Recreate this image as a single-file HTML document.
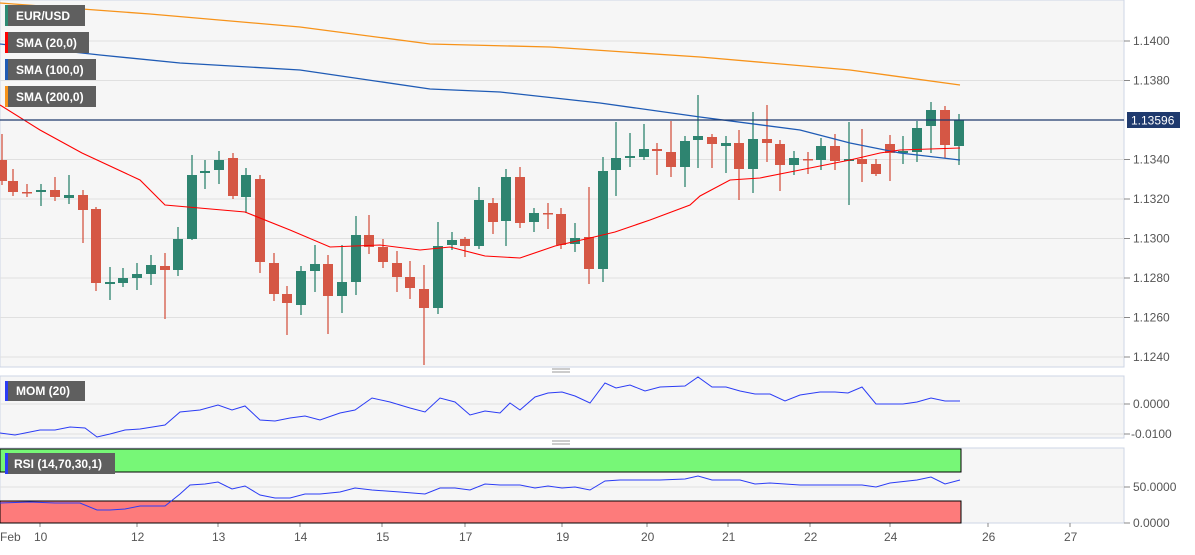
<!DOCTYPE html><html><head><meta charset="utf-8"><style>
body{margin:0;background:#fff;width:1195px;height:550px;overflow:hidden;font-family:"Liberation Sans",Arial,sans-serif}
svg text{font-family:"Liberation Sans",Arial,sans-serif}
</style></head><body>
<svg id="s" width="1195" height="550" xmlns="http://www.w3.org/2000/svg">
<rect x="0" y="0" width="1124" height="367" fill="#f6f6f6" stroke="#cdd5e5"/>
<rect x="0" y="376" width="1124" height="62" fill="#f6f6f6" stroke="#cdd5e5"/>
<rect x="0" y="448" width="1124" height="75" fill="#f6f6f6" stroke="#cdd5e5"/>
<g stroke="#e0e0e0" stroke-width="1">
<line x1="0" x2="1124" y1="41" y2="41"/><line x1="0" x2="1124" y1="80.5" y2="80.5"/><line x1="0" x2="1124" y1="159.5" y2="159.5"/><line x1="0" x2="1124" y1="199" y2="199"/><line x1="0" x2="1124" y1="238.5" y2="238.5"/><line x1="0" x2="1124" y1="278" y2="278"/><line x1="0" x2="1124" y1="317.5" y2="317.5"/><line x1="0" x2="1124" y1="357" y2="357"/>
<line x1="0" x2="1124" y1="404" y2="404"/><line x1="0" x2="1124" y1="434" y2="434"/><line x1="0" x2="1124" y1="487" y2="487"/>
</g>
<g stroke="#888" stroke-width="1">
<line x1="1124" x2="1130" y1="41" y2="41"/><line x1="1124" x2="1130" y1="80.5" y2="80.5"/><line x1="1124" x2="1130" y1="159.5" y2="159.5"/><line x1="1124" x2="1130" y1="199" y2="199"/><line x1="1124" x2="1130" y1="238.5" y2="238.5"/><line x1="1124" x2="1130" y1="278" y2="278"/><line x1="1124" x2="1130" y1="317.5" y2="317.5"/><line x1="1124" x2="1130" y1="357" y2="357"/>
<line x1="1124" x2="1130" y1="404" y2="404"/><line x1="1124" x2="1130" y1="434" y2="434"/><line x1="1124" x2="1130" y1="487" y2="487"/><line x1="1124" x2="1130" y1="523" y2="523"/>
</g>
<g font-size="12" fill="#555">
<text x="1133" y="45">1.1400</text><text x="1133" y="84.5">1.1380</text><text x="1133" y="163.5">1.1340</text><text x="1133" y="203">1.1320</text><text x="1133" y="242.5">1.1300</text><text x="1133" y="282">1.1280</text><text x="1133" y="321.5">1.1260</text><text x="1133" y="361">1.1240</text>
<text x="1133" y="408">0.0000</text><text x="1131" y="438">-0.0100</text><text x="1133" y="491">50.0000</text><text x="1133" y="527">0.0000</text>
<text x="0" y="541">Feb</text><text x="34" y="541">10</text><text x="131" y="541">12</text><text x="212" y="541">13</text><text x="294" y="541">14</text><text x="376" y="541">15</text><text x="459" y="541">17</text><text x="556" y="541">19</text><text x="641" y="541">20</text><text x="722" y="541">21</text><text x="804" y="541">22</text><text x="884" y="541">24</text><text x="982" y="541">26</text><text x="1064" y="541">27</text>
</g>
<g stroke="#888"><line x1="40" x2="40" y1="523" y2="527"/><line x1="137" x2="137" y1="523" y2="527"/><line x1="218" x2="218" y1="523" y2="527"/><line x1="300" x2="300" y1="523" y2="527"/><line x1="382" x2="382" y1="523" y2="527"/><line x1="465" x2="465" y1="523" y2="527"/><line x1="562" x2="562" y1="523" y2="527"/><line x1="647" x2="647" y1="523" y2="527"/><line x1="728" x2="728" y1="523" y2="527"/><line x1="810" x2="810" y1="523" y2="527"/><line x1="890" x2="890" y1="523" y2="527"/><line x1="988" x2="988" y1="523" y2="527"/><line x1="1070" x2="1070" y1="523" y2="527"/></g>
<g stroke="#999"><line x1="552" x2="570" y1="369" y2="369"/><line x1="552" x2="570" y1="372" y2="372"/><line x1="552" x2="570" y1="441" y2="441"/><line x1="552" x2="570" y1="444" y2="444"/></g>
<rect x="0" y="449" width="961" height="23" fill="#77f777" stroke="#000"/>
<rect x="0" y="501" width="961" height="22" fill="#fd7b7b" stroke="#000"/>
<g id="c"></g>
<polyline fill="none" stroke="#f7931a" stroke-width="1.3" points="0,3 150,14 300,27 430,44 550,47 700,57 850,70 960,85"/>
<polyline fill="none" stroke="#1f5bb5" stroke-width="1.3" points="0,44 100,55 180,63 300,70 430,89 500,92 600,103 700,117 800,130 850,143 900,153 960,160"/>
<polyline fill="none" stroke="#f00" stroke-width="1.1" points="0,105 40,130 82,153 140,180 165,205 245,212 290,230 330,247 380,245 420,250 450,247 485,256 520,258 555,246 590,238 615,232 650,220 690,205 700,196 730,180 760,178 800,170 850,160 880,153 900,150 960,148"/>
<line x1="0" x2="1124" y1="120" y2="120" stroke="#1f3a6e" stroke-width="1.2"/>
<rect x="1127" y="112" width="53" height="16" fill="#1f3a6e"/><text x="1131" y="124.5" font-size="12" fill="#fff">1.13596</text>
<polyline fill="none" stroke="#2b3cf5" stroke-width="1" points="0,433 15,435 40,430 55,430 70,427 85,428 97,437 110,434 125,430 140,429 165,425 180,412 200,410 218,405 232,410 245,406 260,420 275,421 290,418 305,416 320,420 340,413 355,410 372,398 390,402 410,408 425,412 440,398 455,402 470,415 485,411 500,413 510,403 520,410 535,397 548,393 562,392 575,396 590,403 605,383 616,388 630,385 645,391 660,387 685,386 698,377 712,387 726,387 740,391 755,394 770,394 785,401 800,395 820,392 835,392 848,393 862,387 876,404 890,404 903,404 917,402 931,398 945,401 960,401"/>
<polyline fill="none" stroke="#2b3cf5" stroke-width="1" points="0,503 30,502 55,503 80,503 97,510 110,510 125,509 140,506 165,506 180,494 190,485 205,484 218,482 232,489 245,486 260,495 275,498 290,498 305,494 320,494 340,492 355,488 372,490 400,492 425,494 440,488 455,488 470,490 485,484 500,485 520,485 535,488 548,486 562,488 575,487 590,490 605,481 620,480 660,480 685,479 698,476 712,480 740,480 755,484 770,483 800,485 835,485 862,485 876,487 890,483 917,480 931,477 945,484 960,480"/>
<g font-size="12" font-weight="bold" fill="#fff">
<rect x="5" y="5" width="80" height="21" fill="#5f5f5f"/><rect x="5" y="5" width="3" height="21" fill="#2e8b73"/><text x="16" y="20">EUR/USD</text>
<rect x="5" y="32" width="84" height="21" fill="#5f5f5f"/><rect x="5" y="32" width="3" height="21" fill="#f00"/><text x="16" y="47">SMA (20,0)</text>
<rect x="5" y="59" width="91" height="21" fill="#5f5f5f"/><rect x="5" y="59" width="3" height="21" fill="#1f5bb5"/><text x="16" y="74">SMA (100,0)</text>
<rect x="5" y="86" width="91" height="21" fill="#5f5f5f"/><rect x="5" y="86" width="3" height="21" fill="#f7931a"/><text x="16" y="101">SMA (200,0)</text>
<rect x="5" y="381" width="80" height="20" fill="#5f5f5f"/><rect x="5" y="381" width="3" height="20" fill="#2b3cf5"/><text x="16" y="395">MOM (20)</text>
<rect x="5" y="453" width="110" height="21" fill="#5f5f5f"/><rect x="5" y="453" width="3" height="21" fill="#2b3cf5"/><text x="14" y="468">RSI (14,70,30,1)</text>
</g>
</svg>
<script>
var d=[[2,'r',160,181,134,185],[13,'r',181,192,169,196],[27,'r',192,193,184,197],[41,'g',190,192,184,206],[55,'r',190,197,177,201],[69,'g',195,198,175,204],[83,'r',195,210,190,243],[96,'r',209,283,207,291],[110,'g',282,284,267,300],[123,'g',278,283,268,287],[137,'g',274,278,263,290],[151,'g',265,274,255,285],[165,'r',266,270,253,319],[178,'g',239,270,227,276],[192,'g',175,239,155,240],[205,'g',171,173,160,189],[219,'g',160,170,151,184],[233,'r',158,196,153,199],[246,'g',175,197,168,213],[260,'r',179,262,175,273],[274,'r',263,294,253,301],[287,'r',294,303,286,335],[301,'g',271,305,266,315],[315,'g',264,271,245,292],[328,'r',264,296,255,334],[342,'g',282,296,245,313],[356,'g',235,282,216,295],[369,'r',235,247,215,254],[383,'r',247,262,239,268],[397,'r',263,277,251,292],[410,'r',277,288,261,299],[424,'r',289,308,265,365],[438,'g',246,308,222,314],[452,'g',240,245,232,250],[465,'r',239,246,237,257],[479,'g',200,246,187,249],[493,'r',203,222,198,234],[506,'g',177,221,169,246],[520,'r',177,223,167,228],[534,'g',213,222,208,232],[548,'r',213,214,203,229],[561,'r',214,245,208,249],[575,'g',238,244,223,252],[589,'r',237,269,187,284],[603,'g',171,269,157,282],[616,'g',158,170,122,196],[630,'g',156,158,133,167],[644,'g',149,157,124,160],[657,'r',149,151,143,175],[671,'r',152,167,121,177],[685,'g',141,167,136,187],[698,'g',136,140,95,168],[712,'r',137,144,134,168],[726,'g',143,146,136,173],[739,'r',143,169,130,200],[753,'g',139,169,112,193],[767,'r',139,143,105,162],[780,'r',144,165,140,191],[794,'g',158,165,151,175],[808,'r',159,160,152,174],[821,'g',146,160,138,170],[835,'r',146,161,134,170],[849,'g',159,161,122,205],[862,'r',159,164,129,182],[876,'r',164,174,159,176],[890,'r',144,153,135,181],[903,'g',151,153,136,164],[917,'g',128,152,121,162],[931,'g',110,126,102,153],[945,'r',110,145,106,158],[959,'g',120,146,114,165]];
var h='';d.forEach(function(c){var col=c[1]=='r'?'#d55745':'#2e8470';var bh=Math.max(1.5,c[3]-c[2]);h+='<line x1="'+c[0]+'" x2="'+c[0]+'" y1="'+c[4]+'" y2="'+c[5]+'" stroke="'+col+'" stroke-width="1.3"/><rect x="'+(c[0]-5)+'" y="'+c[2]+'" width="10" height="'+bh+'" fill="'+col+'"/>';});
document.getElementById('c').innerHTML=h;
</script>
</body></html>
